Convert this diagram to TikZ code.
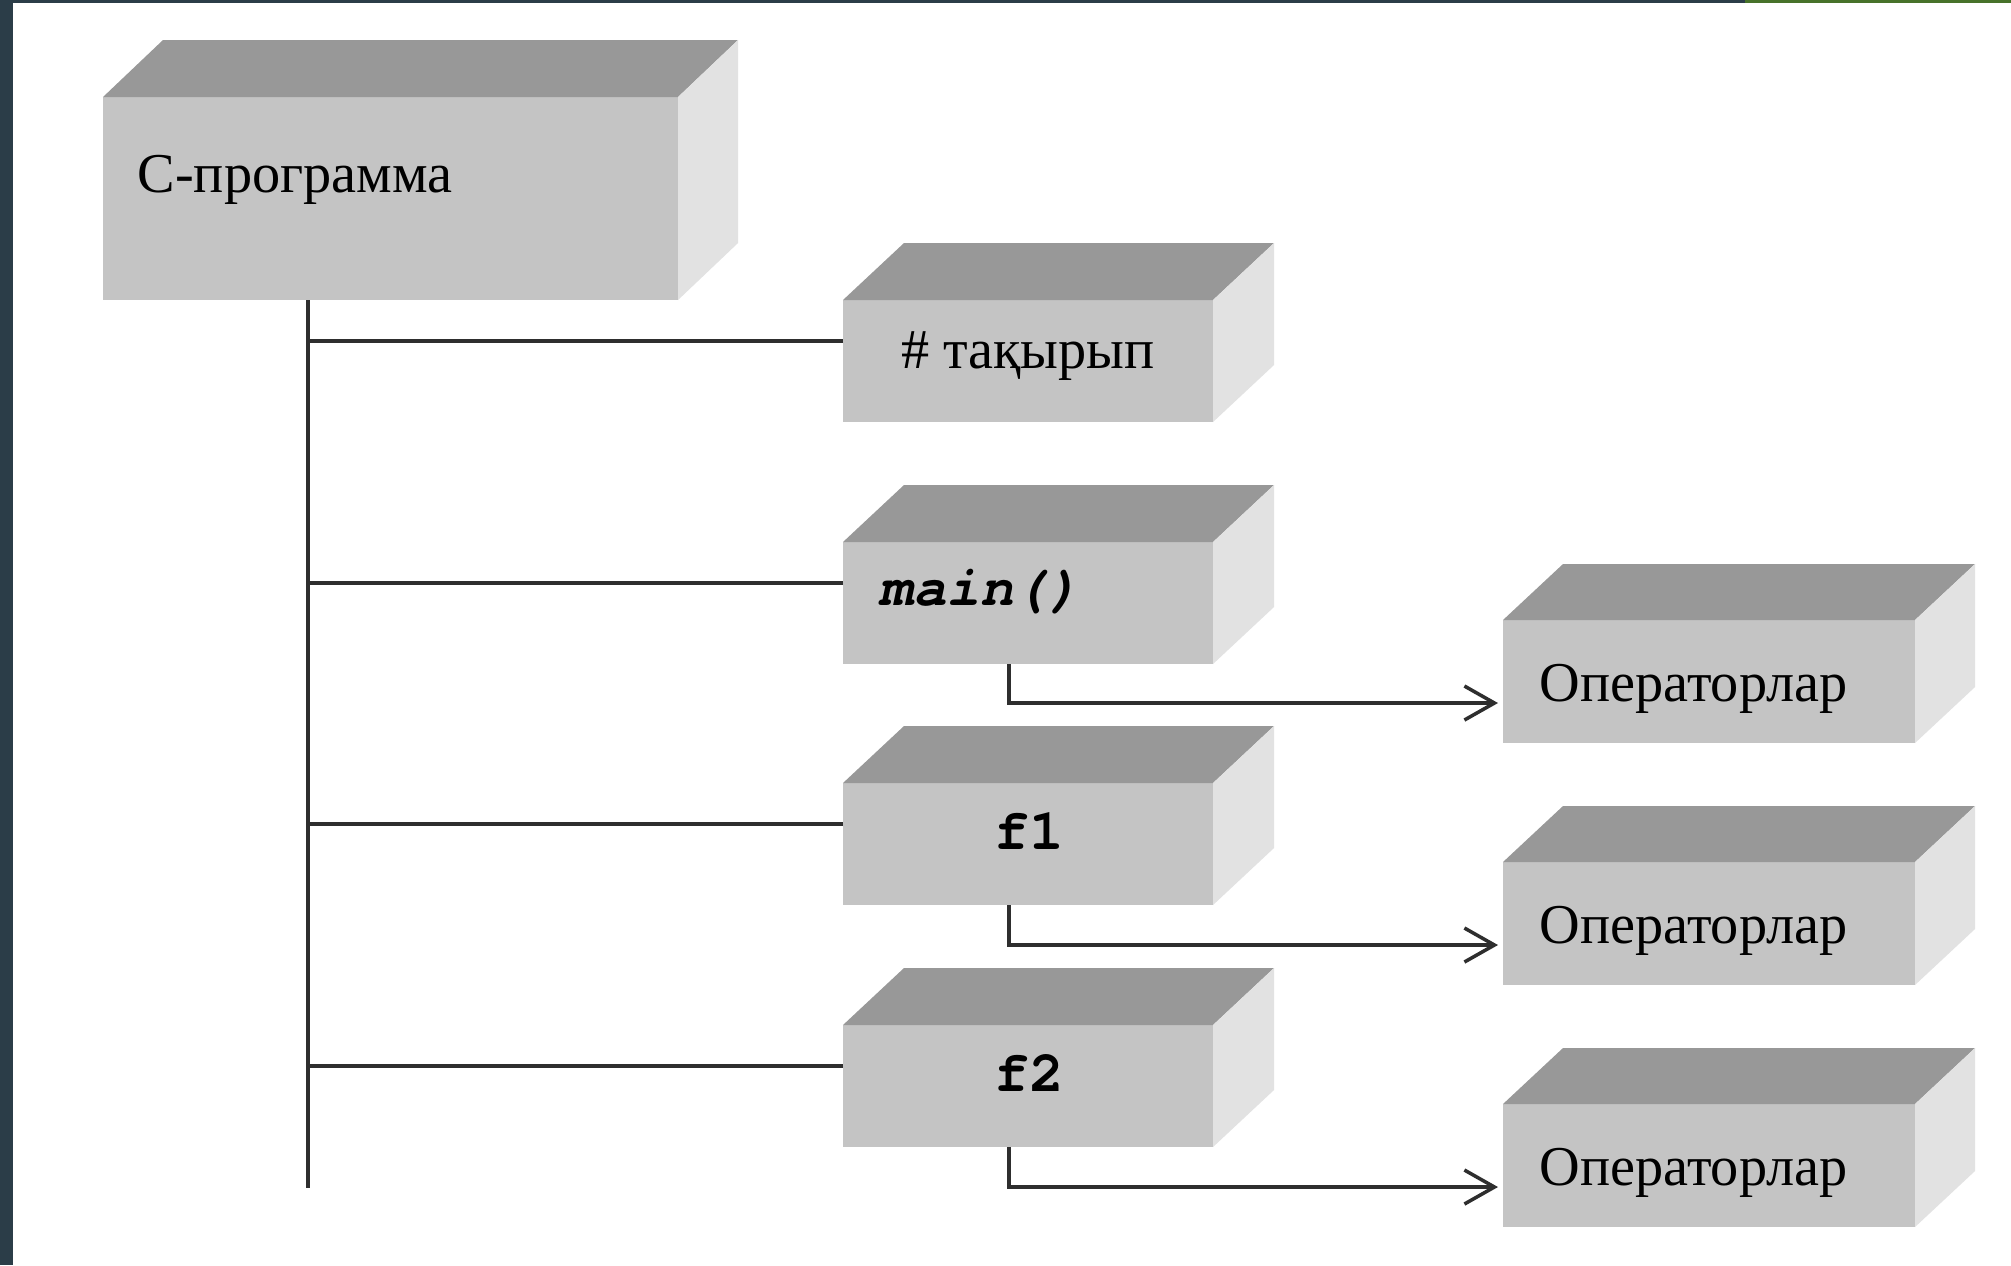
\documentclass[tikz,border=0pt]{standalone}
\usepackage{fontspec}
\setmainfont{Liberation Serif}
\newfontfamily\monof{texgyrecursor}[Extension=.otf, UprightFont=*-regular, BoldFont=*-bold, ItalicFont=*-italic, BoldItalicFont=*-bolditalic]
\usetikzlibrary{arrows.meta,fit,calc}
\definecolor{frontc}{HTML}{C4C4C4}
\definecolor{topc}{HTML}{989898}
\definecolor{sidec}{HTML}{E2E2E2}
\definecolor{linec}{HTML}{2E2E2E}
\definecolor{framec}{HTML}{2B3D48}
\definecolor{greenc}{HTML}{47722A}
\newcommand{\drawcube}[3]{%
  \fill[topc] (#1.north west) -- ++(#2,-#3) -- ([shift={(#2,-#3)}]#1.north east) -- (#1.north east) -- cycle;
  \fill[sidec] (#1.north east) -- ++(#2,-#3) -- ([shift={(#2,-#3)}]#1.south east) -- (#1.south east) -- cycle;
}
\tikzset{
  front/.style={fill=frontc, draw=none, inner sep=0pt, outer sep=0pt},
  lbl/.style={inner sep=0pt, font=\fontsize{16}{19}\selectfont, text=black},
  mlbl/.style={inner sep=0pt, font=\fontsize{16.5}{19}\selectfont\monof\bfseries, text=black},
  conn/.style={draw=linec, line width=1pt},
  arr/.style={conn, -{Straight Barb[length=0.3cm,width=0.34cm,line width=1pt]}, shorten >=0.05cm}
}
\begin{document}
\begin{tikzpicture}[x=0.01cm,y=-0.01cm]
\useasboundingbox (0,0) rectangle (2011,1265);
\fill[white] (0,0) rectangle (2011,1265);
\fill[framec] (0,0) rectangle (13,1265);
\fill[framec] (0,0) rectangle (1745,3);
\fill[greenc] (1745,0) rectangle (2011,3);

% boxes
\node[front, fit={(103,97)(678,300)}] (c) {};
\node[front, fit={(843,300)(1213,422)}] (h) {};
\node[front, fit={(843,542)(1213,664)}] (m) {};
\node[front, fit={(843,783)(1213,905)}] (f1) {};
\node[front, fit={(843,1025)(1213,1147)}] (f2) {};
\node[front, fit={(1503,620)(1915,743)}] (o1) {};
\node[front, fit={(1503,862)(1915,985)}] (o2) {};
\node[front, fit={(1503,1104)(1915,1227)}] (o3) {};
\drawcube{c}{60}{57}
\drawcube{h}{61}{57}
\drawcube{m}{61}{57}
\drawcube{f1}{61}{57}
\drawcube{f2}{61}{57}
\drawcube{o1}{60}{56}
\drawcube{o2}{60}{56}
\drawcube{o3}{60}{56}

% labels
\node[lbl, anchor=base west] (tc) at (137,192) {С-программа};
\node[lbl, anchor=base] (th) at (1028,368) {\# тақырып};
\node[mlbl, anchor=base west, font=\fontsize{15.9}{19}\selectfont\monof\bfseries\itshape] (tm) at (879,605) {main()};
\node[mlbl, anchor=base] (tf1) at (1029,849) {f1};
\node[mlbl, anchor=base] (tf2) at (1029,1091) {f2};
\node[lbl, anchor=base west] (to1) at (1539,701) {Операторлар};
\node[lbl, anchor=base west] (to2) at (1539,943) {Операторлар};
\node[lbl, anchor=base west] (to3) at (1539,1185) {Операторлар};

% trunk and branches
\coordinate (tend) at (308,1188);
\draw[conn] (c.south -| tend) -- (tend);
\foreach \b in {h,m,f1,f2}{
  \coordinate (j\b) at ([yshift=-0.41cm]\b.north west);
  \draw[conn] (j\b) -- (j\b -| tend);
}
% arrows
\draw[arr] ([xshift=-0.19cm]m.south) |- ([yshift=-0.215cm]o1.west);
\draw[arr] ([xshift=-0.19cm]f1.south) |- ([yshift=-0.215cm]o2.west);
\draw[arr] ([xshift=-0.19cm]f2.south) |- ([yshift=-0.215cm]o3.west);
\end{tikzpicture}
\end{document}
